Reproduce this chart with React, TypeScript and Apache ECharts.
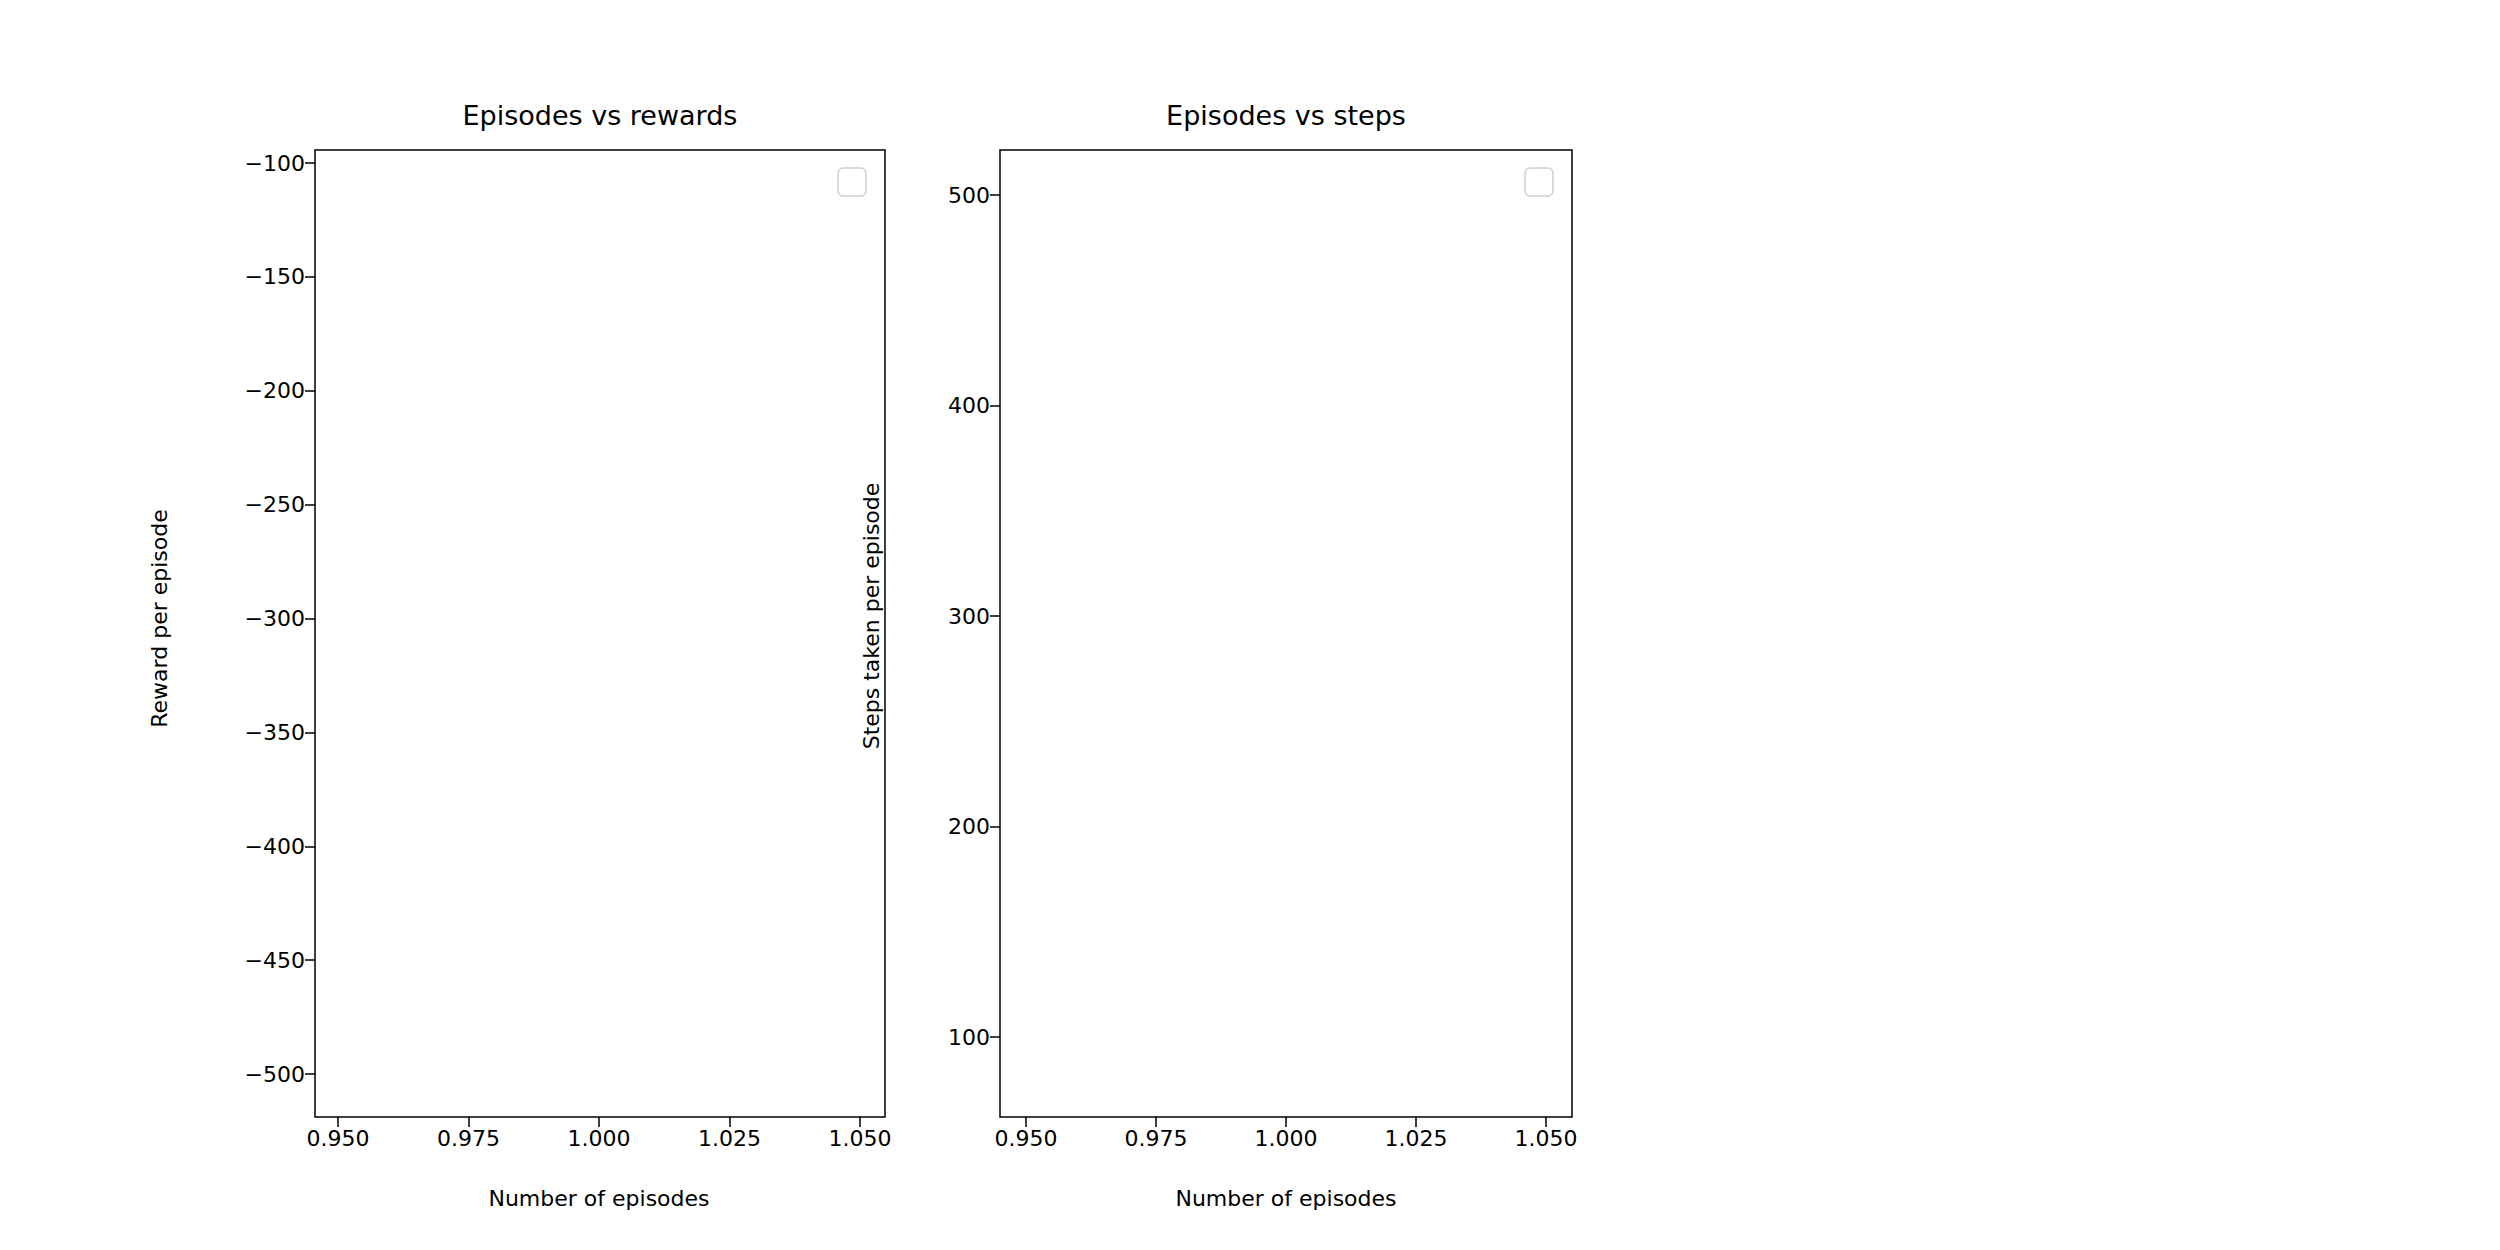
import React, { useEffect, useRef } from 'react';
import * as echarts from 'echarts';

// empty plots: no data recorded
const rewards: number[][] = [];
const steps: number[][] = [];
const titles = ['Episodes vs rewards', 'Episodes vs steps'];
const yNames = ['Reward per episode', 'Steps taken per episode'];
const xName = 'Number of episodes';

const F = 'DejaVu Sans';
const minus = (v: number) => String(v).replace('-', '\u2212');

const App: React.FC = () => {
  const ref = useRef<HTMLDivElement>(null);

  useEffect(() => {
    if (!ref.current) return;
    const chart = echarts.init(ref.current, undefined, { renderer: 'svg' });

    const hidden = { show: false };
    const label = { color: '#000', fontFamily: F, fontSize: 22, margin: 10 };
    const tick = { show: true, length: 10, inside: false, lineStyle: { color: '#000', width: 1.5 } };

    const panels = [
      { fl: 315, fr: 885, xl: 338, xr: 860, yt: 163, yb: 1074, ymin: -500, ymax: -100, yint: 50, gap: 145, data: rewards },
      { fl: 1000, fr: 1572, xl: 1026, xr: 1546, yt: 195, yb: 1037, ymin: 100, ymax: 500, yint: 100, gap: 118, data: steps },
    ];
    const top = 150, bottom = 1117;

    const grid: any[] = [];
    const xAxis: any[] = [];
    const yAxis: any[] = [];
    const series: any[] = [];
    const graphic: any[] = [];

    panels.forEach((p, i) => {
      const g = grid.length;
      // frame
      grid.push({ left: p.fl, width: p.fr - p.fl, top, height: bottom - top, show: true, borderColor: '#000', borderWidth: 1.5, backgroundColor: '#fff' });
      xAxis.push({ gridIndex: g, type: 'value', show: false, min: 0, max: 1 });
      yAxis.push({ gridIndex: g, type: 'value', show: false, min: 0, max: 1 });
      // x ticks
      grid.push({ left: p.xl, width: p.xr - p.xl, top, height: bottom - top });
      xAxis.push({
        gridIndex: g + 1, type: 'value', min: 0.95, max: 1.05, interval: 0.025,
        axisLine: hidden, axisTick: tick, splitLine: hidden,
        axisLabel: { ...label, formatter: (v: number) => v.toFixed(3) },
        name: xName, nameLocation: 'middle', nameGap: 70,
        nameTextStyle: { color: '#000', fontFamily: F, fontSize: 22 },
      });
      yAxis.push({ gridIndex: g + 1, type: 'value', show: false, min: p.ymin, max: p.ymax });
      // y ticks
      grid.push({ left: p.fl, width: p.fr - p.fl, top: p.yt, height: p.yb - p.yt });
      xAxis.push({ gridIndex: g + 2, type: 'value', show: false, min: 0, max: 1 });
      yAxis.push({
        gridIndex: g + 2, type: 'value', min: p.ymin, max: p.ymax, interval: p.yint,
        axisLine: hidden, axisTick: tick, splitLine: hidden,
        axisLabel: { ...label, formatter: minus },
        name: yNames[i], nameLocation: 'middle', nameGap: p.gap, nameRotate: 90,
        nameTextStyle: { color: '#000', fontFamily: F, fontSize: 22 },
      });
      series.push({ type: 'line', xAxisIndex: g + 1, yAxisIndex: g + 1, data: p.data });
      graphic.push({
        type: 'text', x: (p.fl + p.fr) / 2, y: 115,
        style: { text: titles[i], fill: '#000', font: `27px "${F}"`, textAlign: 'center', textVerticalAlign: 'middle' },
      });
      graphic.push({
        type: 'rect', shape: { x: p.fr - 47, y: 168, width: 28, height: 28, r: 5 },
        style: { fill: '#fff', stroke: '#d0d0d0', lineWidth: 1.5 },
      });
    });

    chart.setOption({ animation: false, backgroundColor: '#fff', grid, xAxis, yAxis, series, graphic });
    return () => chart.dispose();
  }, []);

  return <div ref={ref} style={{ position: 'absolute', left: 0, top: 0, width: 2500, height: 1250 }} />;
};

export default App;
